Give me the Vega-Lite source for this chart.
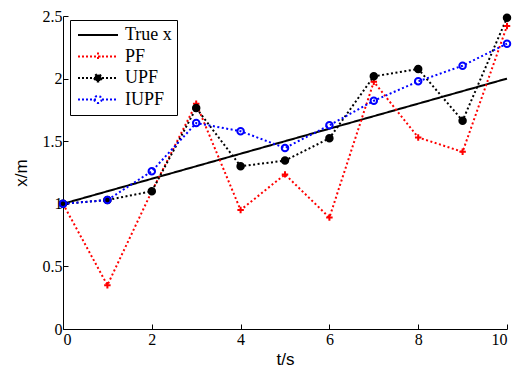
{
  "$schema": "https://vega.github.io/schema/vega-lite/v6.json",
  "autosize": "none",
  "width": 444,
  "height": 313,
  "padding": {"left": 63, "top": 16, "right": 11, "bottom": 43},
  "background": "white",
  "config": {
    "view": {"stroke": null},
    "axis": {
      "grid": false,
      "domainColor": "black",
      "domainWidth": 1,
      "tickColor": "black",
      "tickSize": -5,
      "labelFont": "Liberation Serif",
      "labelFontSize": 16,
      "labelColor": "black",
      "labelOverlap": false,
      "titleFont": "Liberation Sans",
      "titleFontSize": 17,
      "titleFontWeight": "normal",
      "titleColor": "black"
    }
  },
  "data": {
    "values": [
      {"t": 0, "series": "True x", "x": 1.0},
      {"t": 1, "series": "True x", "x": 1.1},
      {"t": 2, "series": "True x", "x": 1.2},
      {"t": 3, "series": "True x", "x": 1.3},
      {"t": 4, "series": "True x", "x": 1.4},
      {"t": 5, "series": "True x", "x": 1.5},
      {"t": 6, "series": "True x", "x": 1.6},
      {"t": 7, "series": "True x", "x": 1.7},
      {"t": 8, "series": "True x", "x": 1.8},
      {"t": 9, "series": "True x", "x": 1.9},
      {"t": 10, "series": "True x", "x": 2.0},
      {"t": 0, "series": "PF", "x": 1.0},
      {"t": 1, "series": "PF", "x": 0.35},
      {"t": 2, "series": "PF", "x": 1.1},
      {"t": 3, "series": "PF", "x": 1.8},
      {"t": 4, "series": "PF", "x": 0.95},
      {"t": 5, "series": "PF", "x": 1.235},
      {"t": 6, "series": "PF", "x": 0.89},
      {"t": 7, "series": "PF", "x": 1.975},
      {"t": 8, "series": "PF", "x": 1.53},
      {"t": 9, "series": "PF", "x": 1.415},
      {"t": 10, "series": "PF", "x": 2.42},
      {"t": 0, "series": "UPF", "x": 1.0},
      {"t": 1, "series": "UPF", "x": 1.03},
      {"t": 2, "series": "UPF", "x": 1.1},
      {"t": 3, "series": "UPF", "x": 1.765},
      {"t": 4, "series": "UPF", "x": 1.3},
      {"t": 5, "series": "UPF", "x": 1.345},
      {"t": 6, "series": "UPF", "x": 1.523},
      {"t": 7, "series": "UPF", "x": 2.018},
      {"t": 8, "series": "UPF", "x": 2.077},
      {"t": 9, "series": "UPF", "x": 1.664},
      {"t": 10, "series": "UPF", "x": 2.486},
      {"t": 0, "series": "IUPF", "x": 1.0},
      {"t": 1, "series": "IUPF", "x": 1.03},
      {"t": 2, "series": "IUPF", "x": 1.26},
      {"t": 3, "series": "IUPF", "x": 1.645},
      {"t": 4, "series": "IUPF", "x": 1.58},
      {"t": 5, "series": "IUPF", "x": 1.446},
      {"t": 6, "series": "IUPF", "x": 1.627},
      {"t": 7, "series": "IUPF", "x": 1.823},
      {"t": 8, "series": "IUPF", "x": 1.978},
      {"t": 9, "series": "IUPF", "x": 2.103},
      {"t": 10, "series": "IUPF", "x": 2.279}
    ]
  },
  "encoding": {
    "x": {
      "field": "t", "type": "quantitative",
      "scale": {"domain": [0, 10], "nice": false, "zero": false},
      "axis": {"title": "t/s", "values": [0, 2, 4, 6, 8, 10], "format": "~r", "labelPadding": 7, "titlePadding": 4}
    },
    "y": {
      "field": "x", "type": "quantitative",
      "scale": {"domain": [0, 2.5], "nice": false, "zero": false},
      "axis": {"title": "x/m", "values": [0, 0.5, 1, 1.5, 2, 2.5], "format": "~r", "labelPadding": 6, "titlePadding": 12}
    }
  },
  "layer": [
    {
      "mark": {"type": "line", "strokeWidth": 2, "strokeCap": "butt"},
      "encoding": {
        "color": {
          "field": "series", "type": "nominal",
          "scale": {"domain": ["True x", "PF", "UPF", "IUPF"], "range": ["black", "#ff0000", "black", "#0000ff"]},
          "legend": {
            "title": null,
            "orient": "none",
            "legendX": 7,
            "legendY": 4,
            "direction": "vertical",
            "padding": 5,
            "strokeColor": "black",
            "fillColor": "white",
            "symbolSize": 1600,
            "symbolStrokeWidth": 2,
            "symbolOffset": 2,
            "labelOffset": 6,
            "clipHeight": 20,
            "rowPadding": 1.5,
            "labelFont": "Liberation Serif",
            "labelFontSize": 18,
            "labelColor": "black",
            "encode": {
              "symbols": {
                "update": {
                  "shape": {"signal": "datum.value === 'True x' ? 'M-1,0H1' : datum.value === 'PF' ? 'M-1,0H-0.9M-0.8,0H-0.7M-0.6,0H-0.5M-0.4,0H-0.3M-0.2,0H-0.1M0,0H0.1M0.2,0H0.3M0.4,0H0.5M0.6,0H0.7M0.8,0H0.9M-0.2,0H0.2M0,-0.2V0.2' : 'M-1,0H-0.9M-0.8,0H-0.7M-0.6,0H-0.5M-0.4,0H-0.3M-0.2,0H-0.1M0.2,0H0.3M0.4,0H0.5M0.6,0H0.7M0.8,0H0.9M0.18,0A0.18,0.18,0,1,1,-0.18,0A0.18,0.18,0,1,1,0.18,0Z'"},
                  "fill": {"signal": "datum.value === 'UPF' ? 'black' : 'transparent'"},
                  "strokeDash": {"value": [1, 0]}
                }
              }
            }
          }
        },
        "strokeDash": {
          "field": "series", "type": "nominal",
          "scale": {"domain": ["True x", "PF", "UPF", "IUPF"], "range": [[1, 0], [2, 2.5], [2, 2.5], [2, 2.5]]},
          "legend": null
        }
      }
    },
    {
      "transform": [{"filter": "datum.series !== 'True x'"}],
      "mark": {"type": "point", "strokeWidth": 2, "opacity": 1, "size": 42},
      "encoding": {
        "shape": {
          "field": "series", "type": "nominal",
          "scale": {"domain": ["PF", "UPF", "IUPF"], "range": ["M-1,0H1M0,-1V1", "circle", "circle"]},
          "legend": null
        },
        "stroke": {
          "field": "series", "type": "nominal",
          "scale": {"domain": ["PF", "UPF", "IUPF"], "range": ["#ff0000", "black", "#0000ff"]},
          "legend": null
        },
        "fill": {
          "field": "series", "type": "nominal",
          "scale": {"domain": ["PF", "UPF", "IUPF"], "range": ["transparent", "black", "transparent"]},
          "legend": null
        }
      }
    }
  ]
}
